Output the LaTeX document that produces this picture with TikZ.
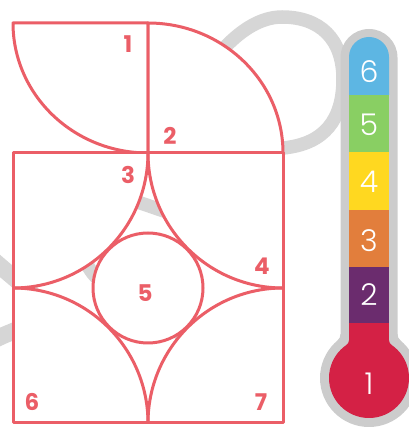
\documentclass[tikz,border=0pt]{standalone}
\usepackage{fontspec}
\setmainfont{Poppins}
\newfontfamily\levelfont{Poppins Light}
\usetikzlibrary{positioning}
\definecolor{tileline}{HTML}{EB5E67}
\definecolor{ribbongray}{HTML}{D6D6D6}
\definecolor{tubegray}{HTML}{CCCCCC}
\definecolor{lvlblue}{HTML}{5DB6E3}
\definecolor{lvlgreen}{HTML}{89CF63}
\definecolor{lvlyellow}{HTML}{FFD820}
\definecolor{lvlorange}{HTML}{E27E3C}
\definecolor{lvlpurple}{HTML}{6B2C6E}
\definecolor{lvlred}{HTML}{D42145}

\begin{document}
\begin{tikzpicture}[x=1pt, y=1pt,
    tile/.style={draw=tileline, line width=3pt, line join=round, fill=white},
    tileedge/.style={draw=tileline, line width=3pt, line join=round},
    ribbon/.style={draw=ribbongray, line width=13.5pt},
    tilenum/.style={text=tileline, font=\fontsize{23}{23}\selectfont\bfseries, inner sep=0pt},
    levelnum/.style={text=white, font=\levelfont\fontsize{30}{30}\selectfont, inner sep=0pt},
]
    \useasboundingbox (0,0) rectangle (409,434);
    \clip (0,0) rectangle (409,434);

    % Background ribbon
    \draw[ribbon] (190,339) .. controls (205,365) and (240,417) .. (282,417)
        .. controls (320,417) and (343,395) .. (343,355)
        .. controls (343,315) and (325,290) .. (283,286)
        .. controls (240,280) and (215,212) .. (175,220)
        .. controls (160,223) and (140,233) .. (120,236)
        .. controls (80,242) and (70,185) .. (95,158)
        .. controls (120,131) and (165,115) .. (225,69);
    \draw[ribbon, line width=17pt] plot[smooth] coordinates {(-30,194) (0,168) (30,142) (38,129) (25,109) (0,97) (-30,82)};

    % Upper tiles
    \draw[tile] (148,281) -- (148,411) -- (13,411) arc[start angle=180, end angle=270, x radius=135, y radius=130] -- cycle;
    \draw[tile] (148,281) -- (148,411) arc[start angle=90, end angle=0, x radius=135, y radius=130] -- cycle;

    % Lower square
    \fill[white] (13,281) -- (148,281) arc[start angle=0, end angle=-90, radius=135] -- cycle;
    \fill[white] (283,281) -- (148,281) arc[start angle=180, end angle=270, radius=135] -- cycle;
    \fill[white] (13,11) -- (13,146) arc[start angle=90, end angle=0, radius=135] -- cycle;
    \fill[white] (283,11) -- (283,146) arc[start angle=90, end angle=180, radius=135] -- cycle;
    \draw[tile] (148,146) circle[radius=55];
    \draw[tileedge] (13,11) rectangle (283,281);
    \draw[tileedge] (148,281) arc[start angle=0, end angle=-90, radius=135];
    \draw[tileedge] (148,281) arc[start angle=180, end angle=270, radius=135];
    \draw[tileedge] (13,146) arc[start angle=90, end angle=0, radius=135];
    \draw[tileedge] (283,146) arc[start angle=90, end angle=180, radius=135];

    % Tile numbers
    \node[tilenum] (n1) at (128,390) {1};
    \node[tilenum] (n2) at (170,298) {2};
    \node[tilenum] (n3) at (128,259) {3};
    \node[tilenum] (n4) at (262,168) {4};
    \node[tilenum] (n5) at (145,141) {5};
    \node[tilenum] (n6) at (32,32) {6};
    \node[tilenum] (n7) at (261,32) {7};

    % Thermometer outline
    \fill[tubegray] (340.5,56) -- (340.5,376.5) arc[start angle=180, end angle=0, radius=28.5] -- (397.5,56) -- cycle;
    \fill[tubegray] (369,56) circle[radius=49];
    \fill[tubegray] (340.5,99.8) arc[start angle=0, end angle=-50.2, radius=8] -- (369,56) -- (369,99.8) -- cycle;
    \fill[tubegray] (397.5,99.8) arc[start angle=180, end angle=230.2, radius=8] -- (369,56) -- (369,99.8) -- cycle;

    % Thermometer levels
    \fill[lvlred] (349,56) rectangle (389,111);
    \fill[lvlred] (369,56) circle[radius=40];
    \fill[lvlred] (349,93.9) arc[start angle=0, end angle=-55.6, radius=6] -- (369,56) -- (369,93.9) -- cycle;
    \fill[lvlred] (389,93.9) arc[start angle=180, end angle=235.6, radius=6] -- (369,56) -- (369,93.9) -- cycle;
    \fill[lvlpurple] (349,111) rectangle (389,167);
    \fill[lvlorange] (349,167) rectangle (389,224);
    \fill[lvlyellow] (349,224) rectangle (389,282);
    \fill[lvlgreen] (349,282) rectangle (389,339);
    \fill[lvlblue] (349,339) -- (349,377) arc[start angle=180, end angle=0, radius=20] -- (389,339) -- cycle;

    % Level numbers
    \node[levelnum] (v1) at (369,50) {1};
    \node[levelnum] (v2) at (369,139) {2};
    \node[levelnum] (v3) at (369,193) {3};
    \node[levelnum] (v4) at (369,252) {4};
    \node[levelnum] (v5) at (369,309) {5};
    \node[levelnum] (v6) at (369,362) {6};
\end{tikzpicture}
\end{document}
